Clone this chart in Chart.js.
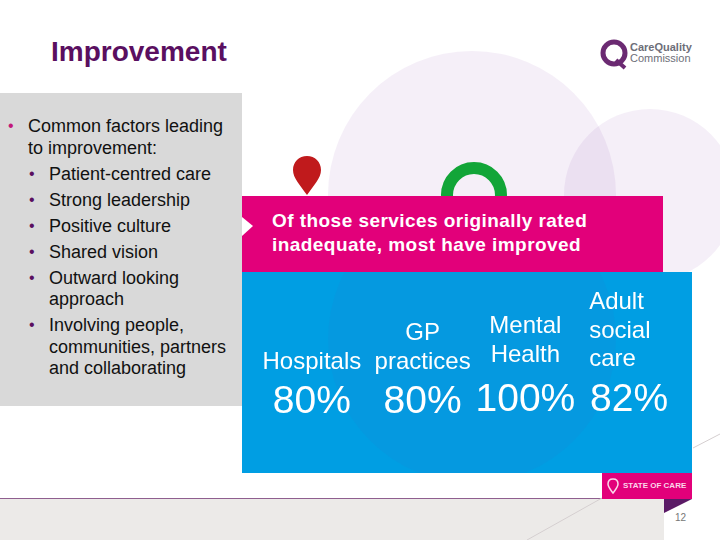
<!DOCTYPE html>
<html>
<head>
<meta charset="utf-8">
<title>Improvement</title>
<script src="https://cdn.jsdelivr.net/npm/chart.js@4/dist/chart.umd.min.js"></script>
<style>
    html, body { margin: 0; padding: 0; background: #fff; }
    #slide { position: relative; width: 720px; height: 540px; overflow: hidden; font-family: "Liberation Sans", Arial, sans-serif; }
    #slide > * { position: absolute; }
    #title { left: 51px; top: 36px; font-size: 28px; font-weight: bold; color: #5a0f60; line-height: 32px; }
    #side-panel { left: 0; top: 93px; width: 242px; height: 313px; background: #d9d9d9; }
    .line { font-size: 18px; line-height: 20px; color: #111; white-space: nowrap; }
    .dot { font-size: 16px; line-height: 20px; }
    #banner { left: 242px; top: 196px; width: 421px; height: 76px; background: #e2007a; }
    #banner-text { left: 272px; top: 209px; font-size: 19px; line-height: 24px; font-weight: bold; color: #fff; letter-spacing: 0.45px; white-space: nowrap; }
    #panel { left: 242px; top: 272px; width: 450px; height: 201px; background: #009ee3; overflow: hidden; }
    #panel-tint { position: absolute; left: 86px; top: -77px; width: 288px; height: 288px; border-radius: 50%; background: rgba(90, 70, 170, 0.05); }
    #chart-box { left: 242px; top: 272px; width: 450px; height: 201px; }
    #band { left: 0; top: 498px; width: 664px; height: 42px; background: #eceae8; border-top: 1px solid #8f5f8f; box-sizing: border-box; }
    #badge { left: 602px; top: 473px; width: 90px; height: 26px; background: #e2007a; }
    #badge-text { left: 623px; top: 479px; font-size: 8px; line-height: 13px; font-weight: bold; color: #fbd7ea; white-space: nowrap; }
    #page-no { left: 675px; top: 511px; font-size: 10px; line-height: 13px; color: #777; }
    #logo-a { left: 630px; top: 41px; font-size: 11px; line-height: 12px; font-weight: bold; color: #6d6e78; white-space: nowrap; }
    #logo-b { left: 630px; top: 52px; font-size: 11px; line-height: 12px; color: #6d6e78; white-space: nowrap; }
</style>
</head>
<body>
<div id="slide">
    <svg width="720" height="540" style="left:0;top:0">
        <circle cx="472" cy="195" r="144" fill="rgba(130,50,170,0.08)"/>
        <circle cx="650" cy="195" r="86" fill="rgba(130,50,170,0.08)"/>
        <path d="M307 195 C300 185 293 178 293 170 C293 162 299 156 307 156 C315 156 321 162 321 170 C321 178 314 185 307 195 Z" fill="#c01a1c"/>
        <circle cx="474" cy="195" r="27" fill="none" stroke="#12a538" stroke-width="12"/>
        <circle cx="614" cy="53" r="11" fill="none" stroke="#6b2a72" stroke-width="5"/>
        <path d="M616 60 L625 68" stroke="#6b2a72" stroke-width="4"/>
    </svg>
    <div id="title">Improvement</div>
    <div id="logo-a">CareQuality</div>
    <div id="logo-b">Commission</div>
    <div id="side-panel"></div>
    <div id="banner"></div>
    <div id="banner-text">Of those services originally rated<br>inadequate, most have improved</div>
    <div id="panel"><div id="panel-tint"></div></div>
    <div id="band"></div>
    <div id="badge"></div>
    <svg width="720" height="540" style="left:0;top:0">
        <path d="M242 217 L253 226 L242 236 Z" fill="#fff"/>
        <path d="M664 499 L692 499 L664 513 Z" fill="#5b1a66"/>
        <path d="M527 540 L602 498" stroke="#d5cfd0" stroke-width="1"/>
        <path d="M693 448 L720 434" stroke="#d5cfd0" stroke-width="1"/>
        <path d="M613 493 C610 489 608 487 608 484 C608 481 610 479 613 479 C616 479 618 481 618 484 C618 487 616 489 613 493 Z" fill="none" stroke="#fbd7ea" stroke-width="1.5"/>
    </svg>
    <div id="badge-text">STATE OF CARE</div>
    <div id="page-no">12</div>
    <div id="chart-box"><canvas id="services-chart" width="450" height="201"></canvas></div>
</div>
<script>
const categories = [["Hospitals"], ["GP", "practices"], ["Mental", "Health"], ["Adult", "social", "care"]];
const improvedPercent = [80, 80, 100, 82];

const bulletLines = [
    ["Common factors leading", 28, 132, "#c2187a"],
    ["to improvement:", 28, 154, null],
    ["Patient-centred care", 49, 180, "#5a0f60"],
    ["Strong leadership", 49, 206, "#5a0f60"],
    ["Positive culture", 49, 232, "#5a0f60"],
    ["Shared vision", 49, 258, "#5a0f60"],
    ["Outward looking", 49, 284, "#5a0f60"],
    ["approach", 49, 305, null],
    ["Involving people,", 49, 331, "#5a0f60"],
    ["communities, partners", 49, 353, null],
    ["and collaborating", 49, 374, null]
];

// per column text placement, the table on the slide is not evenly spaced
const columnNudge   = [0, 5, 2, 0];
const labelBaseline = [[97], [68, 97], [61, 90], [37, 66, 94]];
const valueBaseline = [141, 141, 139, 139];

function addBulletLines()
{
    const slide = document.getElementById("slide");
    bulletLines.forEach(([text, x, baseline, dotColor]) => {
        const div = document.createElement("div");
        div.className = "line";
        div.textContent = text;
        div.style.left = x + "px";
        div.style.top = (baseline - 16) + "px";
        slide.appendChild(div);
        if (dotColor)
        {
            const dot = document.createElement("div");
            dot.className = "line dot";
            dot.textContent = "•";
            dot.style.left = (x - 20) + "px";
            dot.style.top = (baseline - 16) + "px";
            dot.style.color = dotColor;
            slide.appendChild(dot);
        }
    });
}

const columnText = {
    id: "columnText",
    afterDatasetsDraw(chart)
    {
        const ctx = chart.ctx;
        const bars = chart.getDatasetMeta(0).data;
        ctx.save();
        ctx.fillStyle = "#ffffff";
        ctx.textBaseline = "alphabetic";
        bars.forEach((bar, i) => {
            const x = bar.x + columnNudge[i];
            ctx.font = '24px "Liberation Sans"';
            // last column is left aligned on the slide
            ctx.textAlign = i === 3 ? "left" : "center";
            categories[i].forEach((line, n) => {
                ctx.fillText(line, i === 3 ? x - 40 : x, labelBaseline[i][n]);
            });
            ctx.font = '39px "Liberation Sans"';
            ctx.textAlign = "center";
            ctx.fillText(improvedPercent[i] + "%", x, valueBaseline[i]);
        });
        ctx.restore();
    }
};

addBulletLines();

new Chart(document.getElementById("services-chart").getContext("2d"), {
    type: "bar",
    data: {
        labels: categories.map(c => c.join(" ")),
        datasets: [{
            label: "Rated inadequate, since improved (%)",
            data: improvedPercent,
            backgroundColor: "rgba(0,0,0,0)",
            borderWidth: 0
        }]
    },
    options: {
        responsive: false,
        animation: false,
        layout: { padding: { left: 17, right: 10, top: 0, bottom: 0 } },
        plugins: { legend: { display: false }, tooltip: { enabled: false } },
        scales: {
            x: { display: false },
            y: { display: false, beginAtZero: true, max: 100 }
        }
    },
    plugins: [columnText]
});
</script>
</body>
</html>
